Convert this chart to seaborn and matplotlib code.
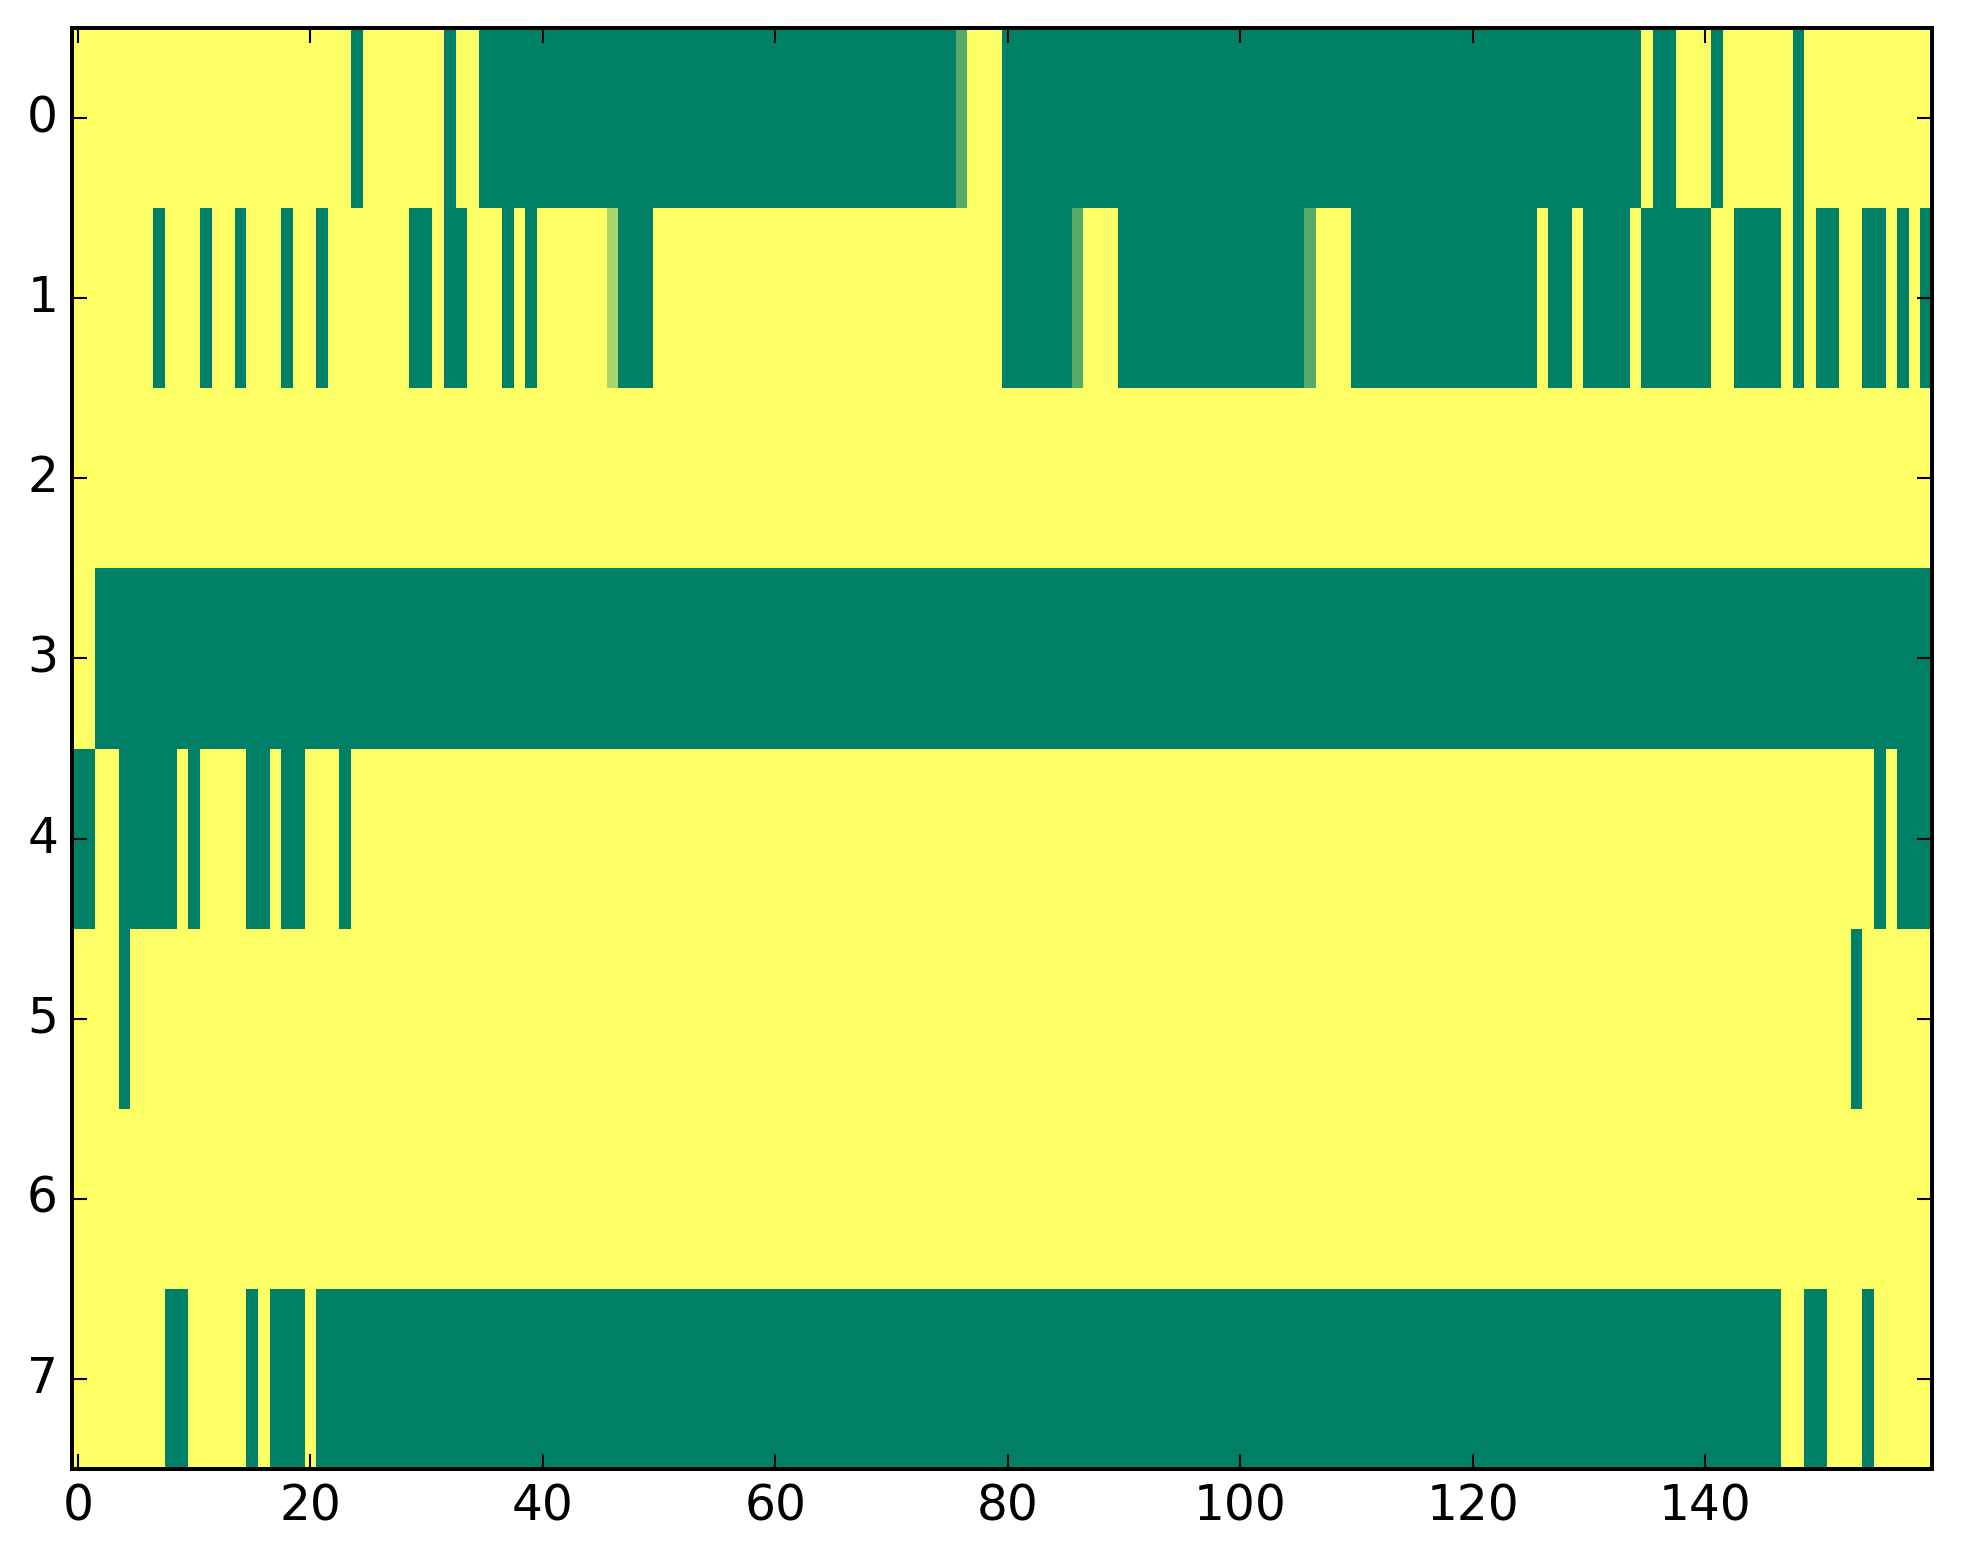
import numpy as np
import matplotlib
matplotlib.use("Agg")
import matplotlib.pyplot as plt
import seaborn as sns

# Each row: list of (value, run length) (160 columns)
row0 = [(1, 24), (0, 1), (1, 7), (0, 1), (1, 2), (0, 41), (0.33, 1), (1, 3), (0, 55),
        (1, 1), (0, 2), (1, 3), (0, 1), (1, 6), (0, 1), (1, 11)]
row1 = [(1, 7), (0, 1), (1, 3), (0, 1), (1, 2), (0, 1), (1, 3), (0, 1), (1, 2), (0, 1),
        (1, 7), (0, 2), (1, 1), (0, 2), (1, 3), (0, 1), (1, 1), (0, 1), (1, 6), (0.67, 1),
        (0, 3), (1, 30), (0, 6), (0.33, 1), (1, 3), (0, 16), (0.33, 1), (1, 3), (0, 16),
        (1, 1), (0, 2), (1, 1), (0, 4), (1, 1), (0, 6), (1, 2), (0, 4), (1, 1), (0, 1),
        (1, 1), (0, 2), (1, 2), (0, 2), (1, 1), (0, 1), (1, 1), (0, 1)]
row2 = [(1, 160)]
row3 = [(1, 2), (0, 158)]
row4 = [(0, 2), (1, 2), (0, 5), (1, 1), (0, 1), (1, 4), (0, 2), (1, 1), (0, 2), (1, 3),
        (0, 1), (1, 131), (0, 1), (1, 1), (0, 3)]
row5 = [(1, 4), (0, 1), (1, 148), (0, 1), (1, 6)]
row6 = [(1, 160)]
row7 = [(1, 8), (0, 2), (1, 5), (0, 1), (1, 1), (0, 3), (1, 1), (0, 126), (1, 2), (0, 2),
        (1, 3), (0, 1), (1, 5)]

x_tick_values = [0, 20, 40, 60, 80, 100, 120, 140]
y_tick_values = [0, 1, 2, 3, 4, 5, 6, 7]


def expand(runs):
    out = []
    for v, n in runs:
        out.extend([v] * n)
    return out


data = np.array([expand(r) for r in (row0, row1, row2, row3, row4, row5, row6, row7)], dtype=float)

plt.rcParams['font.family'] = ['DejaVu Sans']
dpi = 250
fig = plt.figure(figsize=(1963 / dpi, 1564 / dpi), dpi=dpi, facecolor='white')
ax = fig.add_axes([72 / 1963, 1 - 1469 / 1564, (1932 - 72) / 1963, (1469 - 28) / 1564])

sns.heatmap(data, cmap='summer', vmin=0, vmax=1, cbar=False, ax=ax)

for s in ax.spines.values():
    s.set_visible(True)
    s.set_linewidth(1.15)
    s.set_color('black')

ax.set_xticks(np.array(x_tick_values) + 0.5)
ax.set_xticklabels([str(v) for v in x_tick_values], rotation=0)
ax.set_yticks(np.array(y_tick_values) + 0.5)
ax.set_yticklabels([str(v) for v in y_tick_values], rotation=0)
ax.tick_params(axis='both', which='major', direction='in', length=4.2, width=0.6,
               top=True, right=True, bottom=True, left=True,
               labelsize=14, pad=4, colors='black')
ax.set_xlabel('')
ax.set_ylabel('')

fig.savefig('out.png', dpi=dpi, facecolor='white')
